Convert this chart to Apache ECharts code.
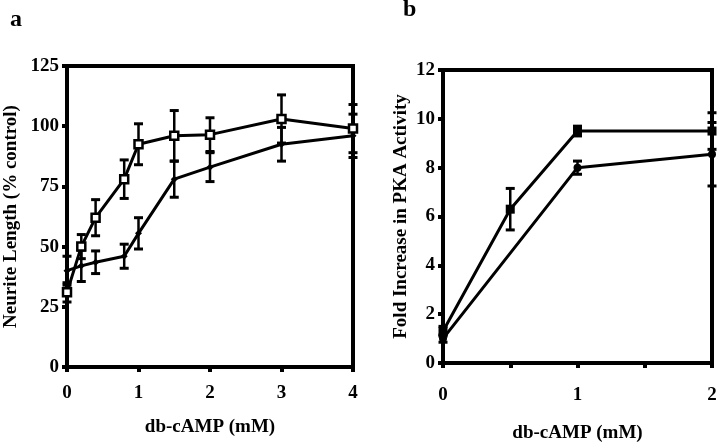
<!DOCTYPE html>
<html><head><meta charset="utf-8">
<script src="https://cdn.jsdelivr.net/npm/echarts@6/dist/echarts.min.js"></script>
<style>html,body{margin:0;padding:0;background:#fff}#c{width:720px;height:448px}</style>
</head><body><div id="c"></div>
<script>
// Panel a: neurite length vs db-cAMP
const xA = [0, 0.2, 0.4, 0.8, 1, 1.5, 2, 3, 4];
const aOpen = [31, 50, 62, 78, 92.5, 96, 96.5, 103, 99];
const aOpenErr = [4, 5, 7.5, 8, 8.5, 10.5, 7, 10, 10];
const aFilled = [40, 42, 43.5, 46, 55.5, 78, 83, 92.5, 96];
const aFilledErr = [6, 6.5, 4.7, 5, 6.5, 7.5, 6, 7, 9];
// Panel b: PKA activity
const xB1 = [0, 0.5, 1, 2];
const bUpper = [1.3, 6.3, 9.5, 9.5];
const bUpperErr = [0.2, 0.85, 0.2, 0.75];
const xB2 = [0, 1, 2];
const bLower = [1.0, 8.0, 8.55];
const bLowerErr = [0.15, 0.27, 1.3];

const FONT = 'Liberation Serif';
const txt = {fontFamily: FONT, fontWeight: 'bold', fontSize: 19, color: '#000'};

function pairs(xs, ys) { return xs.map((x, i) => [x, ys[i]]); }
function errData(xs, ys, es) { return xs.map((x, i) => [x, ys[i] - es[i], ys[i] + es[i]]); }
function errSeries(idx, data) {
  return {
    type: 'custom', xAxisIndex: idx, yAxisIndex: idx, data: data, clip: false, z: 3,
    renderItem: function (params, api) {
      const lo = api.coord([api.value(0), api.value(1)]);
      const hi = api.coord([api.value(0), api.value(2)]);
      const w = 4.5;
      const st = {stroke: '#000', lineWidth: 2.5};
      return {type: 'group', children: [
        {type: 'line', shape: {x1: lo[0], y1: lo[1], x2: hi[0], y2: hi[1]}, style: st},
        {type: 'line', shape: {x1: lo[0] - w, y1: lo[1], x2: lo[0] + w, y2: lo[1]}, style: {stroke: '#000', lineWidth: 3}},
        {type: 'line', shape: {x1: hi[0] - w, y1: hi[1], x2: hi[0] + w, y2: hi[1]}, style: {stroke: '#000', lineWidth: 3}}
      ]};
    }
  };
}
function axisCommon() {
  return {
    axisLine: {show: true, onZero: false, lineStyle: {color: '#000', width: 4}},
    axisTick: {show: true, inside: false, length: 5, lineStyle: {color: '#000', width: 4}},
    splitLine: {show: false},
    axisLabel: Object.assign({}, txt),
    nameTextStyle: Object.assign({}, txt),
    nameLocation: 'middle'
  };
}

const chart = echarts.init(document.getElementById('c'), null, {renderer: 'canvas'});
chart.setOption({
  animation: false,
  backgroundColor: '#fff',
  title: [
    {text: 'a', left: 5, top: 3, textStyle: {fontFamily: FONT, fontWeight: 'bold', fontSize: 24, color: '#000'}},
    {text: 'b', left: 398, top: -7, textStyle: {fontFamily: FONT, fontWeight: 'bold', fontSize: 24, color: '#000'}}
  ],
  grid: [
    {left: 67, top: 66, width: 286, height: 301, show: true, borderColor: '#000', borderWidth: 4, backgroundColor: 'transparent'},
    {left: 443, top: 70, width: 269, height: 295, show: true, borderColor: '#000', borderWidth: 4, backgroundColor: 'transparent'}
  ],
  xAxis: [
    Object.assign(axisCommon(), {gridIndex: 0, type: 'value', min: 0, max: 4, interval: 1,
      name: 'db-cAMP (mM)', nameGap: 51,
      axisLabel: Object.assign({}, txt, {margin: 17})}),
    Object.assign(axisCommon(), {gridIndex: 1, type: 'value', min: 0, max: 2, interval: 0.5,
      name: 'db-cAMP (mM)', nameGap: 61,
      axisLabel: Object.assign({}, txt, {margin: 23, formatter: v => (Math.abs(v - Math.round(v)) < 1e-9 ? String(Math.round(v)) : '')})})
  ],
  yAxis: [
    Object.assign(axisCommon(), {gridIndex: 0, type: 'value', min: 0, max: 125, interval: 25,
      name: 'Neurite Length (% control)', nameGap: 46, nameRotate: 90,
      axisLabel: Object.assign({}, txt, {margin: 8})}),
    Object.assign(axisCommon(), {gridIndex: 1, type: 'value', min: 0, max: 12, interval: 2,
      name: 'Fold Increase in PKA Activity', nameGap: 32, nameRotate: 90,
      axisLabel: Object.assign({}, txt, {margin: 8})})
  ],
  series: [
    errSeries(0, errData(xA, aOpen, aOpenErr)),
    errSeries(0, errData(xA, aFilled, aFilledErr)),
    {type: 'line', xAxisIndex: 0, yAxisIndex: 0, data: pairs(xA, aOpen), clip: false, z: 4,
      lineStyle: {color: '#000', width: 3}, symbol: 'rect', symbolSize: 8,
      itemStyle: {color: '#fff', borderColor: '#000', borderWidth: 2.5}},
    {type: 'line', xAxisIndex: 0, yAxisIndex: 0, data: pairs(xA, aFilled), clip: false, z: 4,
      lineStyle: {color: '#000', width: 3}, symbol: 'diamond', symbolSize: 7,
      itemStyle: {color: '#000'}},
    errSeries(1, errData(xB1, bUpper, bUpperErr)),
    errSeries(1, errData(xB2, bLower, bLowerErr)),
    {type: 'line', xAxisIndex: 1, yAxisIndex: 1, data: pairs(xB1, bUpper), clip: false, z: 4,
      lineStyle: {color: '#000', width: 3}, symbol: 'rect', symbolSize: 9,
      itemStyle: {color: '#000'}},
    {type: 'line', xAxisIndex: 1, yAxisIndex: 1, data: pairs(xB2, bLower), clip: false, z: 4,
      lineStyle: {color: '#000', width: 3}, symbol: 'circle', symbolSize: 8,
      itemStyle: {color: '#000'}}
  ]
});
</script></body></html>
